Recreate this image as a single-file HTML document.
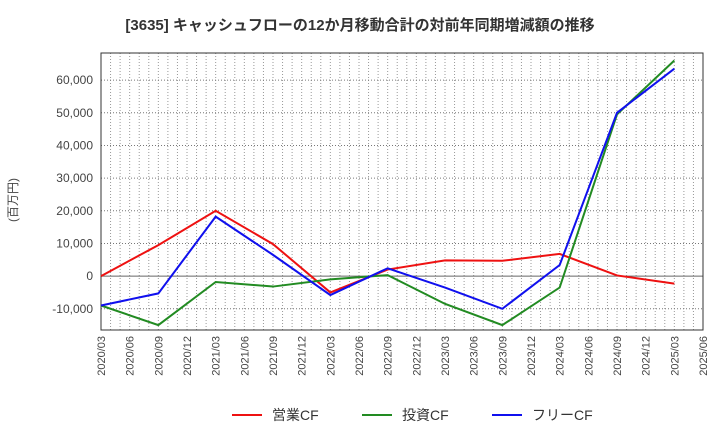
<!DOCTYPE html>
<html><head><meta charset="utf-8"><style>
body{margin:0;background:#fff;font-family:"Liberation Sans","Noto Sans CJK JP",sans-serif;}
</style></head><body>
<svg id="c" width="720" height="440" xmlns="http://www.w3.org/2000/svg">
<text x="360" y="30" text-anchor="middle" font-size="15" font-weight="bold" fill="#333" font-family="Liberation Sans, Noto Sans CJK JP, sans-serif">[3635]  キャッシュフローの12か月移動合計の対前年同期増減額の推移</text>
<text transform="translate(17,200) rotate(-90)" text-anchor="middle" font-size="12" fill="#444" font-family="Liberation Sans, Noto Sans CJK JP, sans-serif">(百万円)</text>
<g id="grid"></g><g id="axes"></g><g id="series"></g><g id="legend"></g>
</svg>
<script>
const xLabels=["2020/03","2020/06","2020/09","2020/12","2021/03","2021/06","2021/09","2021/12","2022/03","2022/06","2022/09","2022/12","2023/03","2023/06","2023/09","2023/12","2024/03","2024/06","2024/09","2024/12","2025/03","2025/06"];
const pointQuarters=[0,2,4,6,8,10,12,14,16,18,20];
const operatingCF=[0,9500,20000,9800,-5000,2000,4800,4700,6800,200,-2300];
const investingCF=[-9000,-15000,-1800,-3200,-1000,300,-8500,-15000,-3500,49500,66000];
const freeCF=[-9000,-5300,18200,6500,-5800,2400,-3500,-10000,3400,50000,63500];
const yTicks=[-10000,0,10000,20000,30000,40000,50000,60000];
const L=101,R=703,T=53,B=330,yMin=-16500,yMax=68300;
const NS="http://www.w3.org/2000/svg";
const xq=q=>L+(R-L)*q/21;
const y=v=>B-(v-yMin)/(yMax-yMin)*(B-T);
function mk(tag,attrs,parent){const e=document.createElementNS(NS,tag);for(const k in attrs)e.setAttribute(k,attrs[k]);document.getElementById(parent).appendChild(e);return e;}
for(let m=1;m<63;m++){const x=L+(R-L)*m/63;
const g=mk("line",{x1:x,x2:x,y1:T,y2:B,stroke:"#999","stroke-dasharray":"1,2","stroke-width":1},"grid");

}
yTicks.forEach(v=>{const l=mk("line",{x1:L,x2:R,y1:y(v),y2:y(v),stroke:v===0?"#666":"#777","stroke-dasharray":v===0?"":"1,2","stroke-width":1},"grid");


const t=mk("text",{x:L-8,y:y(v)+4,"text-anchor":"end","font-size":12,fill:"#444"},"axes");
t.textContent=v.toLocaleString("en-US");

});
const fr=mk("rect",{x:L,y:T,width:R-L,height:B-T,fill:"none",stroke:"#333","stroke-width":1},"axes");


xLabels.forEach((s,i)=>{const t=mk("text",{transform:`translate(${xq(i)+4},${B+6}) rotate(-90)`,"text-anchor":"end","font-size":11,fill:"#444"},"axes");
t.textContent=s;

});
function line(arr,color,name){const p=mk("polyline",{points:arr.map((v,i)=>xq(pointQuarters[i])+","+y(v)).join(" "),fill:"none",stroke:color,"stroke-width":2},"series");

}
line(operatingCF,"#ee1111","operating-cf-line");
line(investingCF,"#228b22","investing-cf-line");
line(freeCF,"#1010ee","free-cf-line");
const leg=[["営業CF","#ee1111",232],["投資CF","#228b22",362],["フリーCF","#1010ee",492]];
leg.forEach(([s,c,x])=>{const l=mk("line",{x1:x,x2:x+30,y1:415,y2:415,stroke:c,"stroke-width":2},"legend");


const t=mk("text",{x:x+40,y:420,"font-size":14,fill:"#333"},"legend");
t.textContent=s;

});
</script>
</body></html>
